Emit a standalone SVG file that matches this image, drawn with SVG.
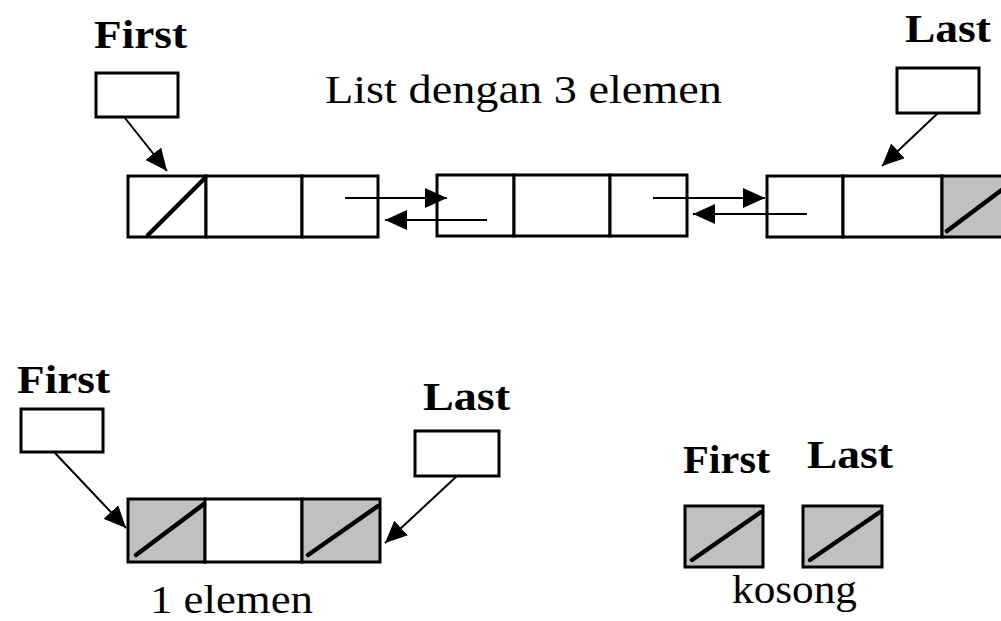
<svg xmlns="http://www.w3.org/2000/svg" width="1001" height="621" viewBox="0 0 1001 621">
  <style>
    .lbl { font-family: "Liberation Serif", "Times New Roman", serif; font-weight: bold; font-size: 39px; fill: #000; }
    .cap { font-family: "Liberation Serif", "Times New Roman", serif; font-size: 39px; fill: #000; }
    .box { fill: #fff; stroke: #000; stroke-width: 3; }
    .cell { fill: #fff; stroke: #000; stroke-width: 3; }
    .nil { fill: #c0c0c0; stroke: #000; stroke-width: 3; }
    .slash { stroke: #000; stroke-width: 4.5; stroke-linecap: round; }
    .link { stroke: #000; stroke-width: 2; fill: none; marker-end: url(#head); }
  </style>
  <defs>
    <marker id="head" markerUnits="userSpaceOnUse" markerWidth="22" markerHeight="20" refX="22" refY="10" orient="auto">
      <path d="M0,0 L22,10 L0,20 z" fill="#000"/>
    </marker>
  </defs>
  <rect width="1001" height="621" fill="#fff"/>

  <!-- three-element list -->
  <text class="cap" x="325" y="103" textLength="397" lengthAdjust="spacingAndGlyphs">List dengan 3 elemen</text>

  <g id="first-top">
    <text class="lbl" x="94" y="48" textLength="93" lengthAdjust="spacingAndGlyphs">First</text>
    <rect class="box" x="96" y="73" width="82" height="44"/>
  </g>
  <g id="last-top">
    <text class="lbl" x="905" y="42" textLength="86" lengthAdjust="spacingAndGlyphs">Last</text>
    <rect class="box" x="897" y="68" width="82" height="45"/>
  </g>

  <g id="node-1">
    <rect class="cell" x="128" y="176" width="78" height="61"/>
    <rect class="cell" x="206" y="176" width="96" height="61"/>
    <rect class="cell" x="302" y="176" width="76" height="61"/>
    <line class="slash" x1="148" y1="235" x2="205" y2="178"/>
  </g>
  <g id="node-2">
    <rect class="cell" x="437" y="175" width="77" height="61"/>
    <rect class="cell" x="514" y="175" width="96" height="61"/>
    <rect class="cell" x="610" y="175" width="77" height="61"/>
  </g>
  <g id="node-3">
    <rect class="cell" x="767" y="176" width="76" height="61"/>
    <rect class="cell" x="843" y="176" width="99" height="61"/>
    <rect class="nil" x="942" y="176" width="76" height="61"/>
    <line class="slash" x1="947" y1="231" x2="1015" y2="180"/>
  </g>

  <!-- single-element list -->
  <g id="first-one">
    <text class="lbl" x="17" y="393" textLength="93" lengthAdjust="spacingAndGlyphs">First</text>
    <rect class="box" x="21" y="409" width="82" height="43"/>
  </g>
  <g id="last-one">
    <text class="lbl" x="423" y="410" textLength="87" lengthAdjust="spacingAndGlyphs">Last</text>
    <rect class="box" x="415" y="431" width="84" height="45"/>
  </g>
  <g id="node-one">
    <rect class="nil" x="128" y="499" width="77" height="63"/>
    <rect class="cell" x="205" y="499" width="97" height="63"/>
    <rect class="nil" x="302" y="499" width="78" height="63"/>
    <line class="slash" x1="136" y1="555" x2="204" y2="504"/>
    <line class="slash" x1="308" y1="555" x2="378" y2="506"/>
    <text class="cap" x="150" y="613" textLength="163" lengthAdjust="spacingAndGlyphs">1 elemen</text>
  </g>

  <!-- empty list -->
  <g id="first-empty">
    <text class="lbl" x="683" y="473" textLength="87" lengthAdjust="spacingAndGlyphs">First</text>
    <rect class="nil" x="685" y="506" width="78" height="61"/>
    <line class="slash" x1="692" y1="560" x2="761" y2="512"/>
  </g>
  <g id="last-empty">
    <text class="lbl" x="807" y="468" textLength="86" lengthAdjust="spacingAndGlyphs">Last</text>
    <rect class="nil" x="803" y="506" width="79" height="61"/>
    <line class="slash" x1="810" y1="560" x2="880" y2="512"/>
  </g>
  <text class="cap" x="732" y="603" textLength="125" lengthAdjust="spacingAndGlyphs">kosong</text>

  <g id="connectors">
    <line class="link" x1="125" y1="118" x2="167" y2="171"/>
    <line class="link" x1="938" y1="113" x2="882" y2="166"/>
    <line class="link" x1="345" y1="198" x2="447" y2="198"/>
    <line class="link" x1="487" y1="220" x2="385" y2="220"/>
    <line class="link" x1="653" y1="198" x2="765" y2="198"/>
    <line class="link" x1="807" y1="214" x2="693" y2="214"/>
    <line class="link" x1="55" y1="453" x2="126" y2="528"/>
    <line class="link" x1="457" y1="476" x2="385" y2="543"/>
  </g>
</svg>
